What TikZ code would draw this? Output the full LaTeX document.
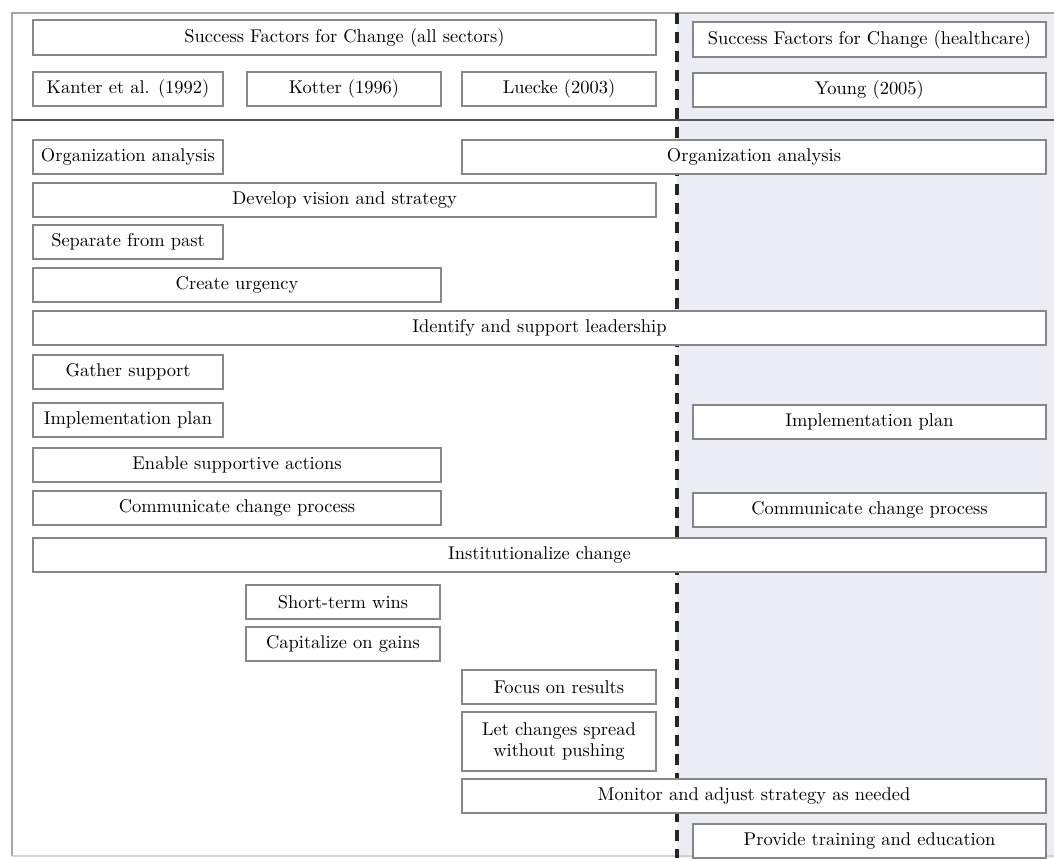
\documentclass[tikz,border=0pt]{standalone}
\usepackage{tikz}
\definecolor{healthshade}{RGB}{236,236,245}
\definecolor{boxline}{RGB}{135,135,135}

\begin{document}
\begin{tikzpicture}[
  box/.style={draw=boxline, line width=0.9pt, fill=white, anchor=north west,
    inner sep=0pt, outer sep=0pt, minimum height=0.68cm, align=center,
    font=\fontsize{10.5}{12.5}\selectfont},
  narrow/.style={minimum width=3.80cm},
  middle/.style={minimum width=3.88cm},
  half/.style={minimum width=8.16cm},
  right/.style={minimum width=7.06cm},
  wide/.style={minimum width=11.68cm},
  full/.style={minimum width=20.26cm}]
\useasboundingbox (0,0) rectangle (21.08,17.16);
% zone healthcare
\fill[healthshade] (13.54,0) rectangle (21.08,16.90);
% cadre
\draw[gray!70, line width=0.9pt] (21.08,16.90) -- (0.24,16.90) -- (0.24,0.04);
\draw[gray!35, line width=0.6pt] (0.24,0.04) -- (21.08,0.04);
\draw[black!65, line width=1.2pt] (0.24,14.76) -- (21.08,14.76);
% separation all sectors / healthcare
\draw[black!85, line width=2pt, dash pattern=on 0.22cm off 0.16cm] (13.54,16.90) -- (13.54,0);

% en-tetes
\node[box, minimum width=12.46cm, minimum height=0.70cm] (hdrAll) at (0.66,16.76) {Success Factors for Change (all sectors)};
\node[box, right, minimum height=0.70cm] (hdrHealth) at (13.86,16.72) {Success Factors for Change (healthcare)};
\node[box, narrow] (kanter) at (0.66,15.72) {Kanter et al. (1992)};
\node[box, middle] (kotter) at (4.94,15.72) {Kotter (1996)};
\node[box, middle] (luecke) at (9.24,15.72) {Luecke (2003)};
\node[box, right] (young) at (13.86,15.70) {Young (2005)};

% facteurs
\node[box, narrow] (orgL) at (0.66,14.36) {Organization analysis};
\node[box, wide] (orgR) at (9.24,14.36) {Organization analysis};
\node[box, minimum width=12.46cm] (vision) at (0.66,13.50) {Develop vision and strategy};
\node[box, narrow] (separate) at (0.66,12.66) {Separate from past};
\node[box, half] (urgency) at (0.66,11.80) {Create urgency};
\node[box, full] (leadership) at (0.66,10.94) {Identify and support leadership};
\node[box, narrow] (gather) at (0.66,10.06) {Gather support};
\node[box, narrow] (planL) at (0.66,9.10) {Implementation plan};
\node[box, right] (planR) at (13.86,9.06) {Implementation plan};
\node[box, half] (enable) at (0.66,8.20) {Enable supportive actions};
\node[box, half] (commL) at (0.66,7.34) {Communicate change process};
\node[box, right] (commR) at (13.86,7.30) {Communicate change process};
\node[box, full] (institution) at (0.66,6.40) {Institutionalize change};
\node[box, middle] (wins) at (4.92,5.46) {Short-term wins};
\node[box, middle] (gains) at (4.92,4.62) {Capitalize on gains};
\node[box, middle] (results) at (9.24,3.76) {Focus on results};
\node[box, middle, minimum height=1.18cm] (spread) at (9.24,2.92) {Let changes spread\\without pushing};
\node[box, wide] (monitor) at (9.24,1.58) {Monitor and adjust strategy as needed};
\node[box, right] (training) at (13.86,0.68) {Provide training and education};
\end{tikzpicture}
\end{document}
